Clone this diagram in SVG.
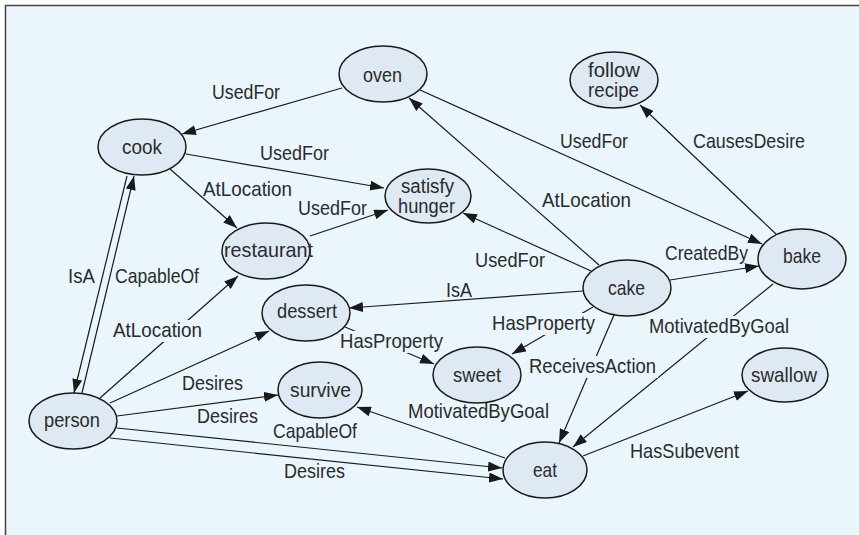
<svg xmlns="http://www.w3.org/2000/svg" width="859" height="535" viewBox="0 0 859 535">
<defs>
<marker id="arr" markerUnits="userSpaceOnUse" markerWidth="14" markerHeight="10" refX="14" refY="5" orient="auto">
<path d="M0,0 L14,5 L0,10 z" fill="#1a1a1a"/>
</marker>
<style>
.bg{fill:#eaf6fc}
.node ellipse{fill:#dfe9f3;stroke:#1a1a1a;stroke-width:1.5}
.node text,.lbl text{font-family:"Liberation Sans",Arial,sans-serif;font-size:21px;fill:#2b2b2b}
.node text.two{font-size:19.5px}
.edges line{stroke:#1a1a1a;stroke-width:1.2;marker-end:url(#arr)}
.gap{fill:#eaf6fc}
</style>
</defs>
<rect x="0" y="0" width="859" height="535" fill="#ffffff"/>
<rect class="bg" x="5.5" y="5.5" width="854" height="530"/>
<path d="M5.5,535 L5.5,5.5 L859,5.5" fill="none" stroke="#444" stroke-width="1.5"/>

<g id="connectors" class="edges">
<line x1="342" y1="88" x2="182" y2="134"/>
<line x1="186" y1="154" x2="384" y2="188"/>
<line x1="170" y1="169" x2="237" y2="228"/>
<line x1="310" y1="236" x2="388" y2="210"/>
<line x1="127" y1="176" x2="74" y2="393"/>
<line x1="82" y1="393" x2="134" y2="176"/>
<line x1="100" y1="398" x2="238" y2="276"/>
<line x1="110" y1="403" x2="269" y2="331"/>
<line x1="117" y1="416" x2="278" y2="395"/>
<line x1="117" y1="428" x2="502" y2="468"/>
<line x1="110" y1="438" x2="503" y2="479"/>
<line x1="505" y1="458" x2="357" y2="407"/>
<line x1="345" y1="327" x2="434" y2="364"/>
<line x1="583" y1="291" x2="349" y2="308"/>
<line x1="591" y1="271" x2="463" y2="213"/>
<line x1="599" y1="265" x2="409" y2="98"/>
<line x1="420" y1="90" x2="762" y2="244"/>
<line x1="670" y1="280" x2="759" y2="266"/>
<line x1="777" y1="235" x2="640" y2="105"/>
<line x1="593" y1="307" x2="512" y2="354"/>
<line x1="614" y1="315" x2="559" y2="443"/>
<line x1="773" y1="284" x2="573" y2="447"/>
<line x1="583" y1="456" x2="748" y2="391"/>
</g>

<g id="edge-labels" class="lbl">
<rect class="gap" x="111" y="320" width="93" height="22"/>
<rect class="gap" x="338" y="331" width="107" height="22"/>
<rect class="gap" x="490" y="313" width="107" height="22"/>
<rect class="gap" x="647" y="316" width="144" height="22"/>
<rect class="gap" x="527" y="356" width="131" height="22"/>
<text x="212" y="99" textLength="68" lengthAdjust="spacingAndGlyphs">UsedFor</text>
<text x="260" y="160" textLength="69" lengthAdjust="spacingAndGlyphs">UsedFor</text>
<text x="203" y="196" textLength="89" lengthAdjust="spacingAndGlyphs">AtLocation</text>
<text x="298" y="215" textLength="69" lengthAdjust="spacingAndGlyphs">UsedFor</text>
<text x="68" y="283" textLength="27" lengthAdjust="spacingAndGlyphs">IsA</text>
<text x="115" y="283" textLength="84" lengthAdjust="spacingAndGlyphs">CapableOf</text>
<text x="113" y="337" textLength="89" lengthAdjust="spacingAndGlyphs">AtLocation</text>
<text x="182" y="390" textLength="61" lengthAdjust="spacingAndGlyphs">Desires</text>
<text x="197" y="423" textLength="61" lengthAdjust="spacingAndGlyphs">Desires</text>
<text x="273" y="438" textLength="84" lengthAdjust="spacingAndGlyphs">CapableOf</text>
<text x="284" y="478" textLength="61" lengthAdjust="spacingAndGlyphs">Desires</text>
<text x="408" y="418" textLength="141" lengthAdjust="spacingAndGlyphs">MotivatedByGoal</text>
<text x="340" y="348" textLength="103" lengthAdjust="spacingAndGlyphs">HasProperty</text>
<text x="446" y="297" textLength="26" lengthAdjust="spacingAndGlyphs">IsA</text>
<text x="475" y="267" textLength="70" lengthAdjust="spacingAndGlyphs">UsedFor</text>
<text x="492" y="330" textLength="103" lengthAdjust="spacingAndGlyphs">HasProperty</text>
<text x="542" y="207" textLength="89" lengthAdjust="spacingAndGlyphs">AtLocation</text>
<text x="560" y="148" textLength="68" lengthAdjust="spacingAndGlyphs">UsedFor</text>
<text x="693" y="148" textLength="112" lengthAdjust="spacingAndGlyphs">CausesDesire</text>
<text x="665" y="260" textLength="83" lengthAdjust="spacingAndGlyphs">CreatedBy</text>
<text x="649" y="333" textLength="140" lengthAdjust="spacingAndGlyphs">MotivatedByGoal</text>
<text x="529" y="373" textLength="127" lengthAdjust="spacingAndGlyphs">ReceivesAction</text>
<text x="630" y="458" textLength="109" lengthAdjust="spacingAndGlyphs">HasSubevent</text>
</g>

<g id="oven" class="node"><ellipse cx="383" cy="74" rx="44" ry="28"/><text x="363" y="82" textLength="39" lengthAdjust="spacingAndGlyphs">oven</text></g>
<g id="cook" class="node"><ellipse cx="142" cy="147" rx="44" ry="28"/><text x="122" y="154" textLength="40" lengthAdjust="spacingAndGlyphs">cook</text></g>
<g id="follow-recipe" class="node"><ellipse cx="614" cy="80" rx="44" ry="28"/><text class="two" x="588" y="77" textLength="52" lengthAdjust="spacingAndGlyphs">follow</text><text class="two" x="588" y="97" textLength="51" lengthAdjust="spacingAndGlyphs">recipe</text></g>
<g id="satisfy-hunger" class="node"><ellipse cx="428" cy="196" rx="43" ry="27"/><text class="two" x="401" y="193" textLength="53" lengthAdjust="spacingAndGlyphs">satisfy</text><text class="two" x="398" y="213" textLength="57" lengthAdjust="spacingAndGlyphs">hunger</text></g>
<g id="restaurant" class="node"><ellipse cx="266" cy="251" rx="44" ry="28"/><text x="224" y="257" textLength="89" lengthAdjust="spacingAndGlyphs">restaurant</text></g>
<g id="dessert" class="node"><ellipse cx="306" cy="313" rx="44" ry="28"/><text x="277" y="318" textLength="60" lengthAdjust="spacingAndGlyphs">dessert</text></g>
<g id="cake" class="node"><ellipse cx="627" cy="288" rx="44" ry="28"/><text x="608" y="295" textLength="37" lengthAdjust="spacingAndGlyphs">cake</text></g>
<g id="bake" class="node"><ellipse cx="802" cy="259" rx="44" ry="30"/><text x="783" y="263" textLength="38" lengthAdjust="spacingAndGlyphs">bake</text></g>
<g id="sweet" class="node"><ellipse cx="477" cy="375" rx="44" ry="28"/><text x="453" y="382" textLength="48" lengthAdjust="spacingAndGlyphs">sweet</text></g>
<g id="survive" class="node"><ellipse cx="320" cy="390" rx="42" ry="28"/><text x="290" y="397" textLength="61" lengthAdjust="spacingAndGlyphs">survive</text></g>
<g id="eat" class="node"><ellipse cx="545" cy="470" rx="42" ry="28"/><text x="533" y="477" textLength="24" lengthAdjust="spacingAndGlyphs">eat</text></g>
<g id="swallow" class="node"><ellipse cx="785" cy="375" rx="43" ry="27"/><text x="751" y="382" textLength="66" lengthAdjust="spacingAndGlyphs">swallow</text></g>
<g id="person" class="node"><ellipse cx="73" cy="421" rx="44" ry="28"/><text x="44" y="427" textLength="56" lengthAdjust="spacingAndGlyphs">person</text></g>
</svg>
